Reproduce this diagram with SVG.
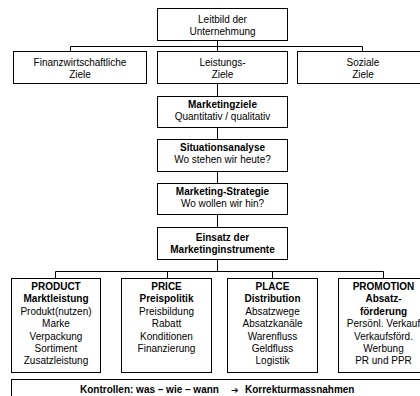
<svg xmlns="http://www.w3.org/2000/svg" width="420" height="396" viewBox="0 0 420 396">
<style>
.box{fill:#fff;stroke:#000;stroke-width:1}
.ln{fill:none;stroke:#000;stroke-width:1}
text{font-family:"Liberation Sans",Arial,sans-serif;font-size:10px;fill:#000;text-anchor:middle}
.b{font-weight:bold}
</style>
<rect width="420" height="396" fill="#fff"/>
<g id="connectors">
<path class="ln" d="M217.5 40.5V46.5M70.5 51.5V46.5H362.5V51.5M217.5 46.5V51.5"/>
<path class="ln" d="M217.5 83.5V96.5M217.5 127.5V139.5M217.5 171.5V183.5M217.5 214.5V227.5M217.5 259.5V271.5"/>
<path class="ln" d="M55.5 278.5V271.5H383.5V278.5M167.5 271.5V278.5M272.5 271.5V278.5"/>
</g>
<g id="leitbild">
<rect class="box" x="157.5" y="8.5" width="130" height="32"/>
<text x="222.5" y="23">Leitbild der</text>
<text x="222.5" y="35">Unternehmung</text>
</g>
<g id="finanz">
<rect class="box" x="13.5" y="51.5" width="133" height="32"/>
<text x="80" y="66">Finanzwirtschaftliche</text>
<text x="80" y="77.5">Ziele</text>
</g>
<g id="leistung">
<rect class="box" x="157.5" y="51.5" width="130" height="32"/>
<text x="222.5" y="66">Leistungs-</text>
<text x="222.5" y="77.5">Ziele</text>
</g>
<g id="sozial">
<rect class="box" x="297.5" y="51.5" width="133" height="32"/>
<text x="363" y="66">Soziale</text>
<text x="363" y="77.5">Ziele</text>
</g>
<g id="marketingziele">
<rect class="box" x="157.5" y="96.5" width="130" height="31"/>
<text class="b" x="222.5" y="108">Marketingziele</text>
<text x="222.5" y="120">Quantitativ / qualitativ</text>
</g>
<g id="situation">
<rect class="box" x="157.5" y="139.5" width="130" height="32"/>
<text class="b" x="222.5" y="151">Situationsanalyse</text>
<text x="222.5" y="163">Wo stehen wir heute?</text>
</g>
<g id="strategie">
<rect class="box" x="157.5" y="183.5" width="130" height="31"/>
<text class="b" x="222.5" y="195">Marketing-Strategie</text>
<text x="222.5" y="207">Wo wollen wir hin?</text>
</g>
<g id="einsatz">
<rect class="box" x="157.5" y="227.5" width="130" height="32"/>
<text class="b" x="222.5" y="241">Einsatz der</text>
<text class="b" x="222.5" y="253">Marketinginstrumente</text>
</g>
<g id="product">
<rect class="box" x="11.5" y="278.5" width="89" height="94"/>
<text class="b" x="56" y="290">PRODUCT</text>
<text class="b" x="56" y="302.4">Marktleistung</text>
<text x="56" y="314.8">Produkt(nutzen)</text>
<text x="56" y="327.2">Marke</text>
<text x="56" y="339.6">Verpackung</text>
<text x="56" y="352">Sortiment</text>
<text x="56" y="364.4">Zusatzleistung</text>
</g>
<g id="price">
<rect class="box" x="121.5" y="278.5" width="90" height="94"/>
<text class="b" x="166.5" y="290">PRICE</text>
<text class="b" x="166.5" y="302.4">Preispolitik</text>
<text x="166.5" y="314.8">Preisbildung</text>
<text x="166.5" y="327.2">Rabatt</text>
<text x="166.5" y="339.6">Konditionen</text>
<text x="166.5" y="352">Finanzierung</text>
</g>
<g id="place">
<rect class="box" x="227.5" y="278.5" width="90" height="94"/>
<text class="b" x="272.5" y="290">PLACE</text>
<text class="b" x="272.5" y="302.4">Distribution</text>
<text x="272.5" y="314.8">Absatzwege</text>
<text x="272.5" y="327.2">Absatzkanäle</text>
<text x="272.5" y="339.6">Warenfluss</text>
<text x="272.5" y="352">Geldfluss</text>
<text x="272.5" y="364.4">Logistik</text>
</g>
<g id="promotion">
<rect class="box" x="338.5" y="278.5" width="90" height="94"/>
<text class="b" x="383.5" y="290">PROMOTION</text>
<text class="b" x="383.5" y="302.4">Absatz-</text>
<text class="b" x="383.5" y="314.8">förderung</text>
<text x="383.5" y="327.2">Persönl. Verkauf</text>
<text x="383.5" y="339.6">Verkaufsförd.</text>
<text x="383.5" y="352">Werbung</text>
<text x="383.5" y="364.4">PR und PPR</text>
</g>
<g id="kontrollen">
<rect class="box" x="11.5" y="379.5" width="420" height="30"/>
<text class="b" x="80" y="393" style="text-anchor:start">Kontrollen: was – wie – wann</text>
<text class="b" x="231" y="393" style="text-anchor:start;font-family:'DejaVu Sans',sans-serif;font-size:9px">➔</text>
<text class="b" x="245" y="393" style="text-anchor:start">Korrekturmassnahmen</text>
</g>
</svg>
